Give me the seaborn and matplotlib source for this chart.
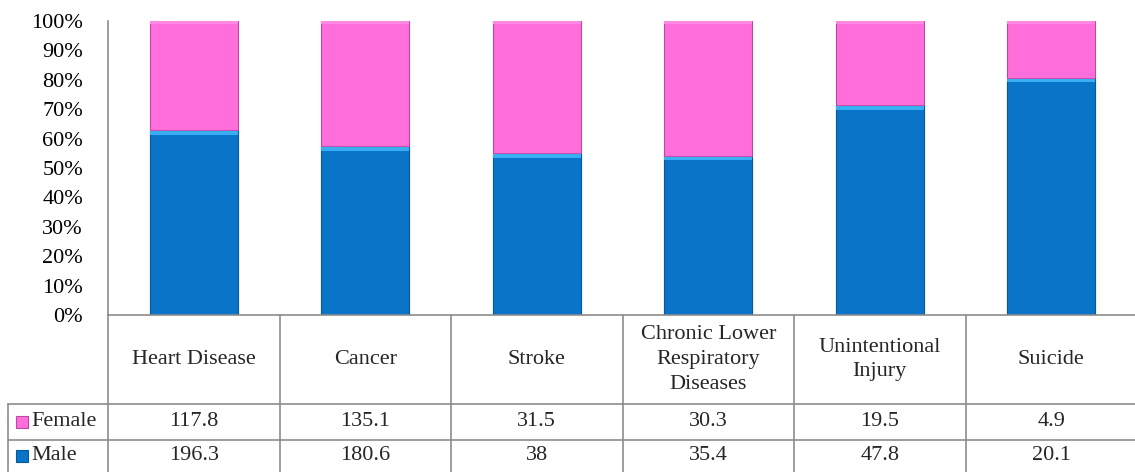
import matplotlib
matplotlib.use("Agg")
import matplotlib.pyplot as plt
import matplotlib.transforms as mtransforms
from matplotlib.lines import Line2D
from matplotlib.patches import Rectangle
import seaborn as sns
import pandas as pd
import numpy as np

categories = ["Heart Disease", "Cancer", "Stroke",
              "Chronic Lower\nRespiratory\nDiseases", "Unintentional\nInjury", "Suicide"]
female = [117.8, 135.1, 31.5, 30.3, 19.5, 4.9]
male = [196.3, 180.6, 38, 35.4, 47.8, 20.1]
series_names = ["Female", "Male"]
yticks = [0, 10, 20, 30, 40, 50, 60, 70, 80, 90, 100]

PINK = "#FF6EDA"
BLUE = "#0A74C8"
GRID = "#8C8C8C"
FONT = "Liberation Serif"
FS = 16

sns.set_theme(style="white")
plt.rcParams["font.family"] = [FONT, "DejaVu Serif"]

W, H = 1135, 472
fig = plt.figure(figsize=(W / 100, H / 100), dpi=100)

def fx(x):
    return x / W

def fy(y):
    return 1 - y / H

left, right, top, bottom = 108, 1137, 21, 315
ax = fig.add_axes([fx(left), fy(bottom), fx(right - left), (bottom - top) / H])

df = pd.DataFrame({"cat": categories, "female": female, "male": male})
df["total_pct"] = 100.0
df["male_pct"] = df["male"] / (df["male"] + df["female"]) * 100

bw = 0.513
sns.barplot(data=df, x="cat", y="total_pct", color=PINK, saturation=1, width=bw,
            ax=ax, edgecolor="#B94AA2", linewidth=0.8)
sns.barplot(data=df, x="cat", y="male_pct", color=BLUE, saturation=1, width=bw,
            ax=ax, edgecolor="#065A9C", linewidth=0.8)

# bevel highlights at top of each segment
n = len(categories)
for i in range(n):
    x0 = i - bw / 2
    mp = df["male_pct"].iloc[i]
    ax.add_patch(Rectangle((x0, mp - 1.3), bw, 1.3, facecolor="#3AAEF2", edgecolor="none", zorder=3))
    ax.add_patch(Rectangle((x0, 100 - 1.0), bw, 1.0, facecolor="#FF88E2", edgecolor="none", zorder=3))
    ax.add_patch(Rectangle((x0, mp), bw, 0.35, facecolor="#C24FA8", edgecolor="none", zorder=3))

ax.set_xlim(-0.5, n - 0.5)
ax.set_ylim(0, 100)
ax.set_yticks(yticks)
ax.set_yticklabels([f"{t}%" for t in yticks], fontsize=FS, color="#000000", family=[FONT])
ax.tick_params(axis="y", length=0, pad=18)
ax.set_xticks([])
ax.set_xlabel("")
ax.set_ylabel("")
for s in ["top", "right", "bottom"]:
    ax.spines[s].set_visible(False)
ax.spines["left"].set_color(GRID)
ax.spines["left"].set_linewidth(1.2)

# data table
lw = 1.2
row_header_bot = 404
row_f_bot = 440
tab_left = 8

def hline(y, x0, x1):
    fig.add_artist(Line2D([fx(x0), fx(x1)], [fy(y), fy(y)], color=GRID, lw=lw, transform=fig.transFigure))

def vline(x, y0, y1):
    fig.add_artist(Line2D([fx(x), fx(x)], [fy(y0), fy(y1)], color=GRID, lw=lw, transform=fig.transFigure))

hline(bottom, left, W)
hline(row_header_bot, tab_left, W)
hline(row_f_bot, tab_left, W)
vline(tab_left, row_header_bot, H)
col_w = (right - left) / n
for i in range(n):
    vline(left + i * col_w, bottom, H)

blend = mtransforms.blended_transform_factory(ax.transData, fig.transFigure)
yc_head = fy((bottom + row_header_bot) / 2)
yc_f = fy((row_header_bot + row_f_bot) / 2)
yc_m = fy((row_f_bot + H) / 2)
for i, c in enumerate(categories):
    fig.text(i, yc_head, c, transform=blend, ha="center", va="center", fontsize=FS,
             linespacing=1.4, family=[FONT])
    fig.text(i, yc_f, f"{female[i]:g}", transform=blend, ha="center", va="center", fontsize=FS, family=[FONT])
    fig.text(i, yc_m, f"{male[i]:g}", transform=blend, ha="center", va="center", fontsize=FS, family=[FONT])

# legend keys
for name, yc, col, edge in [(series_names[0], (row_header_bot + row_f_bot) / 2, PINK, "#B94AA2"),
                            (series_names[1], (row_f_bot + H) / 2, BLUE, "#065A9C")]:
    sz = 12
    fig.add_artist(Rectangle((fx(16), fy(yc + sz / 2)), sz / W, sz / H, facecolor=col,
                             edgecolor=edge, lw=0.8, transform=fig.transFigure))
    fig.text(fx(31), fy(yc), name, ha="left", va="center", fontsize=FS, family=[FONT])

fig.savefig("out.png", dpi=100)
